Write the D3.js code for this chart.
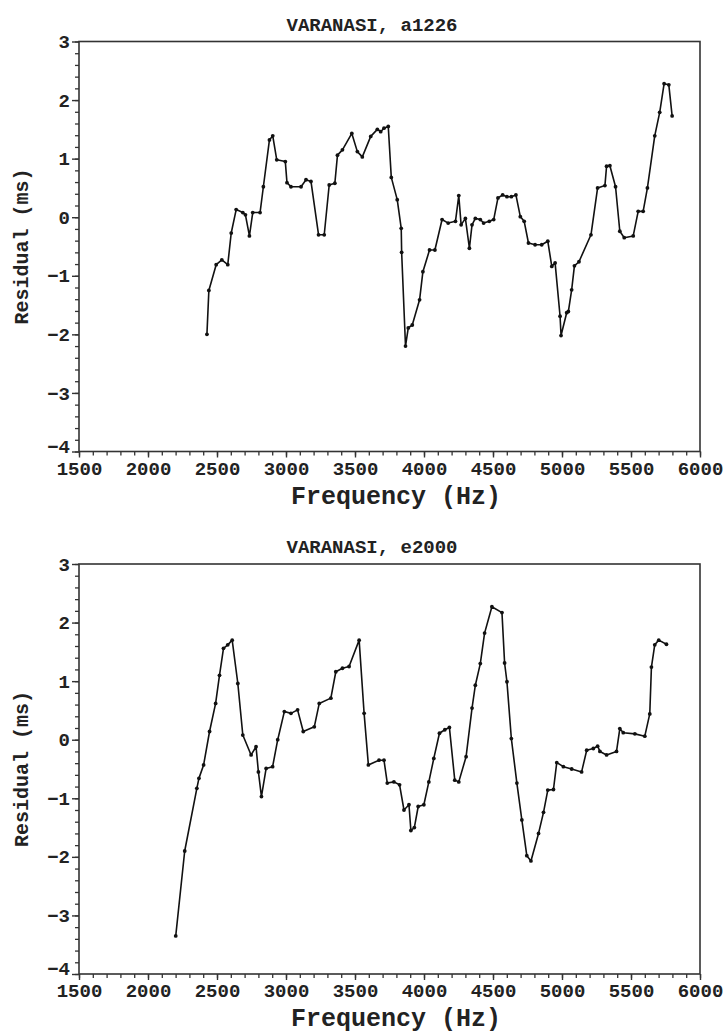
<!DOCTYPE html>
<html>
<head>
<meta charset="utf-8">
<script src="https://cdn.jsdelivr.net/npm/d3@7"></script>
<style>
  html, body { margin: 0; padding: 0; background: #fff; }
  svg { display: block; }
</style>
</head>
<body>
<svg id="chart" width="726" height="1034"></svg>
<script>
// ---- data ----
const titles = ["VARANASI, a1226", "VARANASI, e2000"];
const xTicks = [1500, 2000, 2500, 3000, 3500, 4000, 4500, 5000, 5500, 6000];
const yTicks = [-4, -3, -2, -1, 0, 1, 2, 3];
const xLabel = "Frequency (Hz)";
const yLabel = "Residual (ms)";

const freqA = [2427,2441,2494,2535,2578,2603,2639,2687,2706,2735,2759,2812,2836,2880,2904,2933,2995,3007,3036,3109,3145,3181,3236,3277,3313,3354,3373,3409,3477,3517,3553,3614,3662,3686,3710,3741,3763,3806,3835,3838,3866,3886,3915,3968,3992,4040,4079,4131,4175,4228,4252,4269,4300,4329,4348,4372,4408,4432,4473,4505,4536,4570,4601,4633,4666,4698,4726,4757,4805,4853,4897,4926,4950,4986,4993,5034,5046,5070,5090,5123,5210,5258,5311,5323,5347,5388,5419,5451,5516,5552,5588,5619,5672,5708,5740,5774,5798];
const resA = [-2.00,-1.25,-0.81,-0.73,-0.81,-0.27,0.13,0.08,0.04,-0.32,0.08,0.08,0.52,1.32,1.39,0.98,0.95,0.59,0.52,0.52,0.64,0.61,-0.30,-0.30,0.55,0.58,1.06,1.15,1.43,1.12,1.03,1.38,1.50,1.46,1.52,1.55,0.68,0.30,-0.19,-0.60,-2.20,-1.89,-1.84,-1.41,-0.93,-0.56,-0.56,-0.04,-0.10,-0.07,0.37,-0.13,-0.02,-0.53,-0.13,-0.02,-0.04,-0.10,-0.07,-0.04,0.33,0.38,0.35,0.35,0.38,0.01,-0.07,-0.44,-0.47,-0.47,-0.41,-0.84,-0.78,-1.69,-2.02,-1.63,-1.61,-1.24,-0.83,-0.76,-0.30,0.50,0.54,0.87,0.88,0.52,-0.24,-0.35,-0.32,0.10,0.10,0.50,1.39,1.79,2.28,2.26,1.73];

const freqB = [2201,2266,2354,2369,2403,2446,2490,2518,2547,2578,2610,2651,2687,2747,2783,2800,2822,2856,2903,2940,2988,3036,3084,3125,3205,3241,3325,3361,3409,3457,3530,3566,3597,3674,3710,3734,3782,3823,3855,3891,3905,3930,3958,3999,4035,4071,4112,4151,4184,4223,4252,4305,4348,4372,4408,4439,4492,4565,4584,4601,4633,4673,4709,4745,4775,4830,4866,4897,4938,4962,5010,5070,5142,5179,5227,5258,5275,5323,5395,5419,5444,5528,5600,5636,5648,5672,5701,5757];
const resB = [-3.35,-1.90,-0.83,-0.66,-0.43,0.14,0.62,1.10,1.56,1.62,1.70,0.96,0.08,-0.26,-0.12,-0.55,-0.97,-0.49,-0.46,0.00,0.48,0.45,0.51,0.14,0.22,0.62,0.71,1.16,1.22,1.25,1.70,0.45,-0.43,-0.35,-0.35,-0.74,-0.72,-0.77,-1.20,-1.11,-1.55,-1.50,-1.14,-1.11,-0.72,-0.32,0.11,0.17,0.21,-0.69,-0.72,-0.29,0.54,0.93,1.30,1.82,2.27,2.17,1.31,0.99,0.02,-0.74,-1.37,-1.98,-2.07,-1.60,-1.24,-0.86,-0.85,-0.39,-0.46,-0.50,-0.55,-0.18,-0.15,-0.11,-0.20,-0.26,-0.20,0.19,0.12,0.10,0.06,0.44,1.24,1.62,1.70,1.63];

// ---- drawing ----
const svg = d3.select("#chart");
const monoFont = "'Liberation Mono', 'DejaVu Sans Mono', monospace";

function panel(top, title, freq, res) {
  const left = 79, right = 700, plotTop = top, plotBottom = top + 410;
  const x = d3.scaleLinear().domain([1500, 6000]).range([left, right]);
  const y = d3.scaleLinear().domain([-4, 3]).range([plotBottom, plotTop]);
  const g = svg.append("g");

  // frame
  g.append("rect").attr("x", left).attr("y", plotTop)
    .attr("width", right - left).attr("height", plotBottom - plotTop)
    .attr("fill", "none").attr("stroke", "#333").attr("stroke-width", 1.6);

  // x axis: minor + major ticks
  g.append("g").attr("transform", `translate(0,${plotBottom})`)
    .call(d3.axisBottom(x).tickValues(d3.range(1500, 6001, 100)).tickSize(4).tickFormat(""))
    .call(a => a.select(".domain").remove())
    .selectAll("line").attr("stroke", "#333").attr("stroke-width", 1.3);
  const xa = g.append("g").attr("transform", `translate(0,${plotBottom})`)
    .call(d3.axisBottom(x).tickValues(xTicks).tickSize(6).tickPadding(4).tickFormat(d3.format("d")));
  xa.select(".domain").remove();
  xa.selectAll("line").attr("stroke", "#333").attr("stroke-width", 1.4);
  xa.selectAll("text").attr("font-family", monoFont).attr("font-weight", "bold")
    .attr("font-size", 19).attr("fill", "#222");

  // y axis: minor + major ticks
  g.append("g").attr("transform", `translate(${left},0)`)
    .call(d3.axisLeft(y).tickValues(d3.range(-4, 3.001, 0.2)).tickSize(4).tickFormat(""))
    .call(a => a.select(".domain").remove())
    .selectAll("line").attr("stroke", "#333").attr("stroke-width", 1.3);
  const ya = g.append("g").attr("transform", `translate(${left},0)`)
    .call(d3.axisLeft(y).tickValues(yTicks).tickSize(7).tickPadding(2)
      .tickFormat(d => d < 0 ? "\u2212" + Math.abs(d) : d));
  ya.select(".domain").remove();
  ya.selectAll("line").attr("stroke", "#333").attr("stroke-width", 1.4);
  ya.selectAll("text").attr("font-family", monoFont).attr("font-weight", "bold")
    .attr("font-size", 19).attr("fill", "#222");
  ya.selectAll(".tick").filter(d => d === -4).select("text").attr("dy", "0.05em");

  // title
  g.append("text").attr("x", 372).attr("y", plotTop - 11)
    .attr("text-anchor", "middle").attr("font-family", monoFont).attr("font-weight", "bold")
    .attr("font-size", 19).attr("fill", "#222").text(title);

  // axis labels
  g.append("text").attr("x", 396).attr("y", plotBottom + 52)
    .attr("text-anchor", "middle").attr("font-family", monoFont).attr("font-weight", "bold")
    .attr("font-size", 25).attr("fill", "#222").text(xLabel);
  g.append("text").attr("transform", `translate(28,${(plotTop + plotBottom) / 2}) rotate(-90)`)
    .attr("text-anchor", "middle").attr("font-family", monoFont).attr("font-weight", "bold")
    .attr("font-size", 20).attr("fill", "#222").text(yLabel);

  // data
  const pts = freq.map((f, i) => [f, res[i]]);
  g.append("path").datum(pts)
    .attr("d", d3.line().x(d => x(d[0])).y(d => y(d[1])))
    .attr("fill", "none").attr("stroke", "#111").attr("stroke-width", 1.6)
    .attr("stroke-linejoin", "round");
  g.selectAll("circle").data(pts).join("circle")
    .attr("cx", d => x(d[0])).attr("cy", d => y(d[1])).attr("r", 1.9).attr("fill", "#111");
}

panel(41.5, titles[0], freqA, resA);
panel(564, titles[1], freqB, resB);
</script>
</body>
</html>
